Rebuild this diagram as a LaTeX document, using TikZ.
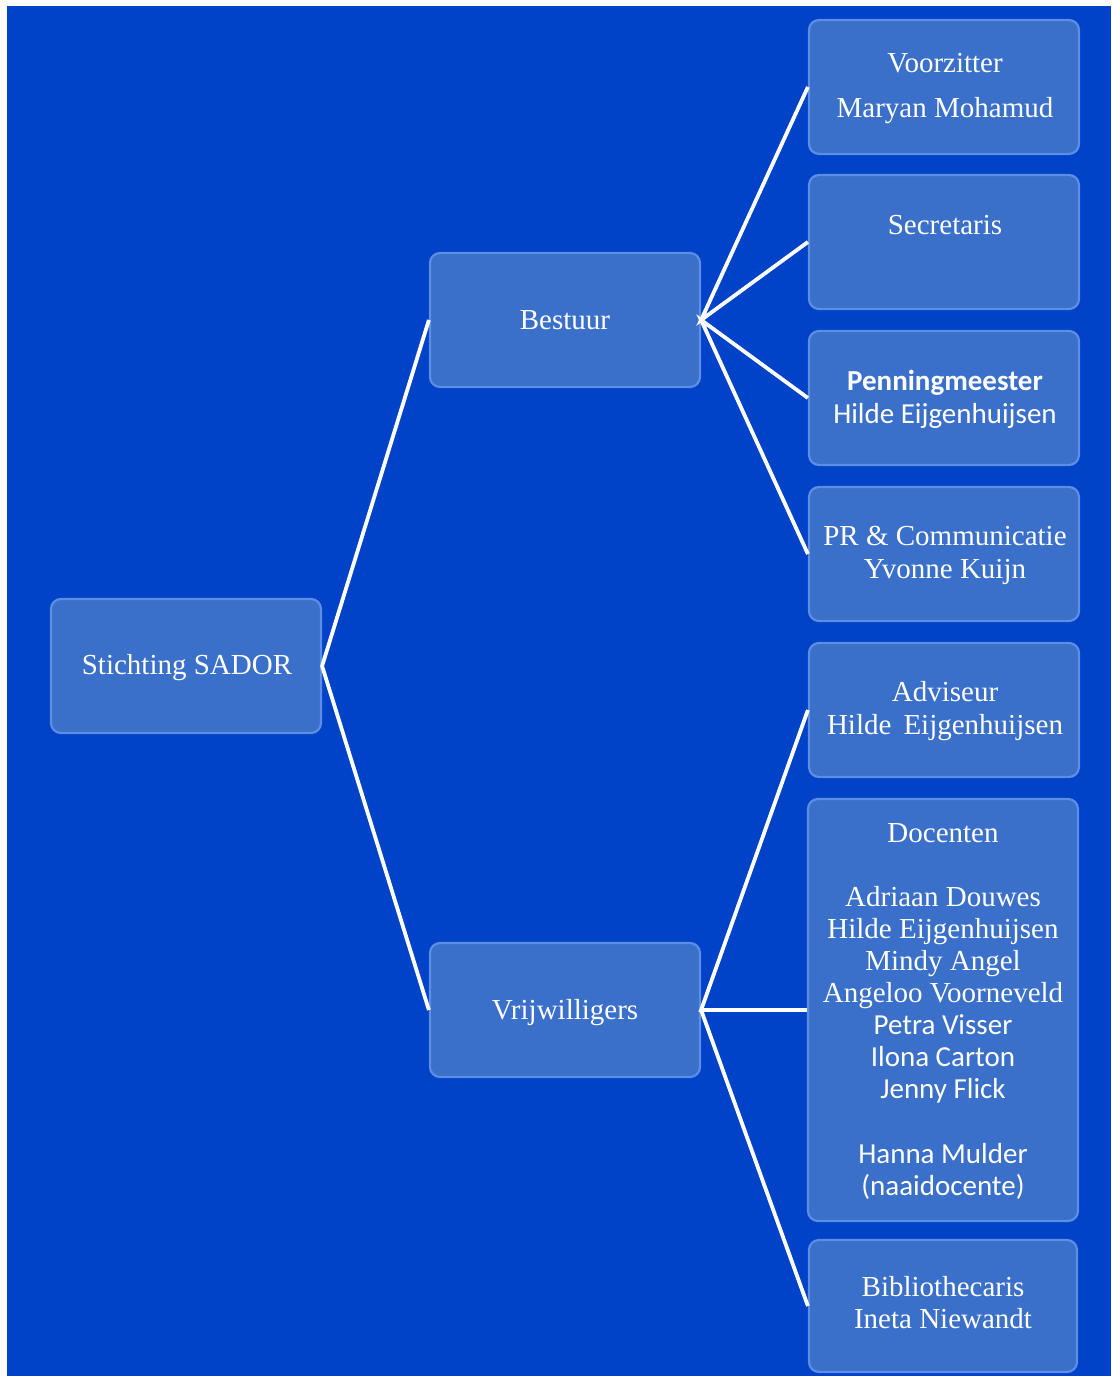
\documentclass[tikz,border=0pt]{standalone}
\usepackage{fontspec}
\setmainfont{Liberation Serif}
\newfontfamily\calfont{Carlito}
\definecolor{bgblue}{RGB}{0,66,200}
\definecolor{boxfill}{RGB}{58,112,202}
\definecolor{boxedge}{RGB}{92,142,228}
\begin{document}
\begin{tikzpicture}[x=1pt,y=-1pt,
  orgbox/.style={draw=boxedge,line width=2.2pt,fill=boxfill,rounded corners=10pt,
    minimum width=270pt,minimum height=134pt,inner sep=0pt},
  lbl/.style={text=white,font=\fontsize{29}{32}\selectfont,anchor=base,inner sep=0pt},
  cal/.style={text=white,font=\calfont\fontsize{29}{32}\selectfont,anchor=base,inner sep=0pt},
  link/.style={draw=white,line width=3.8pt,line join=miter}]
\useasboundingbox (0,0) rectangle (1111,1376);
\fill[bgblue] (7,6) rectangle (1111,1376);
% boxes
\node[orgbox] (sador) at (186,666) {};
\node[orgbox] (bestuur) at (565,320) {};
\node[orgbox] (vrijw) at (565,1010) {};
\node[orgbox] (voorz) at (944,87) {};
\node[orgbox] (secr) at (944,242) {};
\node[orgbox] (penn) at (944,398) {};
\node[orgbox] (pr) at (944,554) {};
\node[orgbox] (advis) at (944,710) {};
\node[orgbox,minimum height=422pt] (docent) at (943,1010) {};
\node[orgbox,minimum width=268pt,minimum height=132pt] (biblio) at (943,1306) {};
% connectors
\draw[link] (bestuur.west) -- (sador.east) -- (vrijw.west);
\draw[link] (voorz.west) -- (bestuur.east) -- (secr.west);
\draw[link] (penn.west) -- (bestuur.east) -- (pr.west);
\draw[link] (advis.west) -- (vrijw.east) -- (docent.west);
\draw[link] (vrijw.east) -- (biblio.west);
% texts
\node[lbl] (t1) at (187,674) {Stichting SADOR};
\node[lbl] (t2) at (565,329) {Bestuur};
\node[lbl] (t3) at (565,1019) {Vrijwilligers};
\node[lbl] (t4) at (945,72) {Voorzitter};
\node[lbl] (t5) at (945,117) {Maryan Mohamud};
\node[lbl] (t6) at (945,234) {Secretaris};
\node[cal] (t7) at (945,390) {\bfseries Penningmeester};
\node[cal] (t8) at (945,423) {Hilde Eijgenhuijsen};
\node[lbl] (t9) at (945,545) {PR \& Communicatie};
\node[lbl] (t10) at (945,578) {Yvonne Kuijn};
\node[lbl] (t11) at (945,701) {Adviseur};
\node[lbl] (t12) at (945,734) {Hilde\, Eijgenhuijsen};
\node[lbl] (t13) at (943,842) {Docenten};
\node[lbl] (t14) at (943,906) {Adriaan Douwes};
\node[lbl] (t15) at (943,938) {Hilde Eijgenhuijsen};
\node[lbl] (t16) at (943,970) {Mindy Angel};
\node[lbl] (t17) at (943,1002) {Angeloo Voorneveld};
\node[cal] (t18) at (943,1034) {Petra Visser};
\node[cal] (t19) at (943,1066) {Ilona Carton};
\node[cal] (t20) at (943,1098) {Jenny Flick};
\node[cal] (t21) at (943,1163) {Hanna Mulder};
\node[cal] (t22) at (943,1195) {(naaidocente)};
\node[lbl] (t23) at (943,1296) {Bibliothecaris};
\node[lbl] (t24) at (943,1328) {Ineta Niewandt};
\end{tikzpicture}
\end{document}
